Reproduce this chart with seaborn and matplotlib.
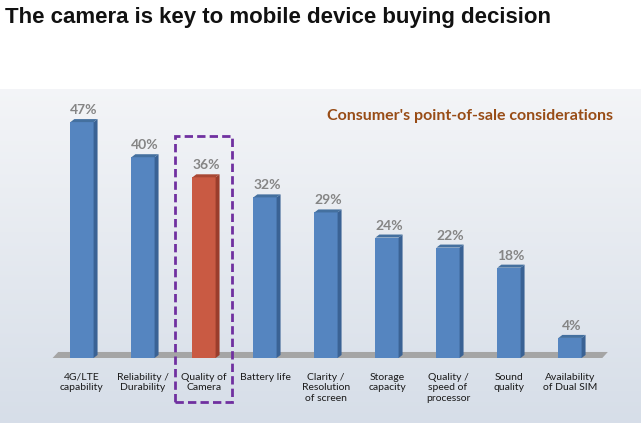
import numpy as np
import matplotlib
matplotlib.use("Agg")
import matplotlib.pyplot as plt
from matplotlib.patches import Polygon, Rectangle
import seaborn as sns

categorias = ["4G/LTE\ncapability", "Reliability /\nDurability", "Quality of\nCamera",
              "Battery life", "Clarity /\nResolution\nof screen", "Storage\ncapacity",
              "Quality /\nspeed of\nprocessor", "Sound\nquality", "Availability\nof Dual SIM"]
valores = [47, 40, 36, 32, 29, 24, 22, 18, 4]
rotulos = ["47%", "40%", "36%", "32%", "29%", "24%", "22%", "18%", "4%"]
destaque = "Quality of\nCamera"

titulo = "The camera is key to mobile device buying decision"
subtitulo = "Consumer's point-of-sale considerations"

azul, azul_lado, azul_topo = "#5585C0", "#3A6294", "#44709F"
verm, verm_lado, verm_topo = "#C95A43", "#9A3D2C", "#A84834"

sns.set_theme(style="white")
plt.rcParams['font.family'] = ['Lato', 'DejaVu Sans']

fig = plt.figure(figsize=(6.41, 4.31), dpi=100)
fig.patch.set_facecolor("white")

# fundo com degradê (painel do slide)
bg = fig.add_axes([0.0, 7 / 431, 1.0, 334 / 431])
grad = np.linspace(0, 1, 256).reshape(-1, 1)
topo = np.array([0.955, 0.96, 0.97])
base = np.array([0.84, 0.87, 0.91])
img = topo + (base - topo) * grad[:, :, None]
bg.imshow(img, aspect="auto", extent=[0, 1, 0, 1])
bg.set_axis_off()

# eixo principal
ax = fig.add_axes([30.15 / 641, 72 / 431, 591.7 / 641, 261 / 431])
ax.patch.set_alpha(0)

n = len(categorias)
cores = {c: (verm if c == destaque else azul) for c in categorias}
sns.barplot(x=categorias, y=valores, hue=categorias, palette=cores, legend=False,
            width=0.38, ax=ax, saturation=1, linewidth=0, zorder=3)
barras = [p for p in ax.patches if isinstance(p, Rectangle)]
barras.sort(key=lambda p: p.get_x())

# piso cinza
ax.add_patch(Polygon([(-0.574, -1.2), (n - 1 + 0.44, -1.2), (n - 1 + 0.62, 1.2), (-0.39, 1.2)],
                     closed=True, facecolor="#A5A5A5", edgecolor="none", zorder=1))

dx, dy = 0.065, 0.6
for patch, cat, rot in zip(barras, categorias, rotulos):
    x0, w, h = patch.get_x(), patch.get_width(), patch.get_height()
    lado_c = verm_lado if cat == destaque else azul_lado
    topo_c = verm_topo if cat == destaque else azul_topo
    ax.add_patch(Polygon([(x0 + w, 0), (x0 + w + dx, dy), (x0 + w + dx, h + dy), (x0 + w, h)],
                         facecolor=lado_c, edgecolor="none", zorder=3))
    ax.add_patch(Polygon([(x0, h), (x0 + dx, h + dy), (x0 + w + dx, h + dy), (x0 + w, h)],
                         facecolor=topo_c, edgecolor="none", zorder=3))
    ax.text(x0 + w / 2 + dx / 2, h + 1.4, rot, ha="center", va="bottom", fontsize=10,
            fontweight="bold", color="#858585")

ax.set_xlim(-0.85, n - 1 + 0.85)
ax.set_ylim(0, 52)
ax.set_yticks([])
ax.set_xlabel("")
ax.set_ylabel("")
ax.tick_params(axis="x", length=0, pad=10, labelsize=7.5, labelcolor="#1A1A1A")
for s in ax.spines.values():
    s.set_visible(False)

# destaque tracejado da câmera
i = categorias.index(destaque)
ax.add_patch(Rectangle((i - 0.48, -8.8), 0.94, 53.0, fill=False, edgecolor="#7030A0",
                       linestyle=(0, (3, 1.5)), linewidth=2, clip_on=False, zorder=4))

fig.text(0.008, 1 - 18 / 431, titulo, ha="left", va="center", fontsize=16,
         fontweight="bold", color="#111111", family=["Liberation Sans", "DejaVu Sans"])
fig.text(470 / 641, 1 - 116 / 431, subtitulo, ha="center", va="center", fontsize=11.5,
         fontweight="bold", color="#984C16")

fig.savefig("out.png", dpi=100)
